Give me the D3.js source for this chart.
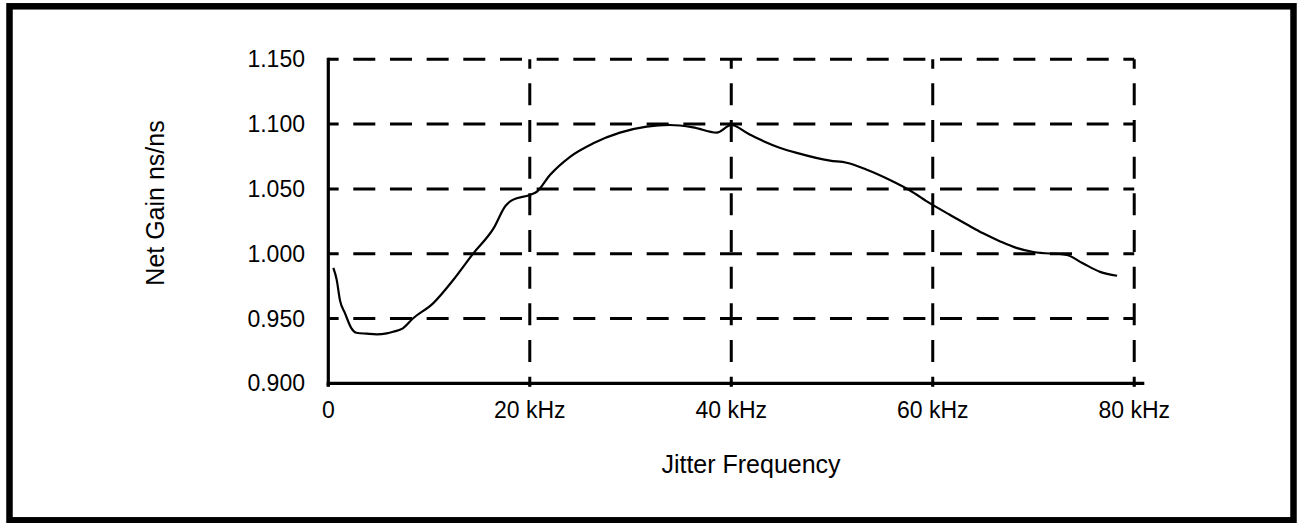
<!DOCTYPE html>
<html>
<head>
<meta charset="utf-8">
<script src="https://cdn.jsdelivr.net/npm/d3@7"></script>
<style>
  html, body { margin: 0; padding: 0; background: #fff; }
  svg { display: block; font-family: "Liberation Sans", Arial, sans-serif; }
</style>
</head>
<body>
<svg id="chart" width="1302" height="523"></svg>
<script>
// data
const freqKHz = [0.5, 0.83, 1.16, 1.66, 2.3, 2.8, 3.8, 4.8, 5.8, 6.45, 7.4, 8.4, 10.4, 12.4, 14.4,
  16.4, 17.6, 18.3, 20.0, 20.7, 22.0, 24.0, 26.3, 28.95, 31.6, 33.9, 36.2, 38.55, 40.0,
  41.7, 43.2, 44.8, 46.5, 49.8, 51.45, 53.4, 55.75, 57.7, 59.7, 61.7, 63.4, 65.0, 66.7, 68.3, 70.0,
  73.3, 74.9, 76.6, 78.3];
const netGain = [0.989, 0.980, 0.964, 0.954, 0.9424, 0.939, 0.9383, 0.9378, 0.9385, 0.9398, 0.9424, 0.950, 0.9617, 0.9797, 1.0003,
  1.0195, 1.037, 1.0415, 1.0453, 1.0478, 1.0607, 1.0748, 1.0852, 1.0934, 1.098, 1.0993, 1.0975, 1.0934, 1.0993,
  1.0925, 1.0868, 1.0818, 1.0778, 1.0718, 1.0702, 1.065, 1.0569, 1.049, 1.039, 1.030, 1.0225, 1.0157, 1.0095, 1.0045, 1.0013,
  0.999, 0.9926, 0.986, 0.983];

const yTicks = [0.900, 0.950, 1.000, 1.050, 1.100, 1.150];
const xTicks = [0, 20, 40, 60, 80];
const xTickLabels = ["0", "20 kHz", "40 kHz", "60 kHz", "80 kHz"];

const svg = d3.select("#chart");

// outer frame
svg.append("rect")
  .attr("x", 9.5).attr("y", 6.3)
  .attr("width", 1284).attr("height", 514)
  .attr("fill", "none").attr("stroke", "#000").attr("stroke-width", 6.5);

const x = d3.scaleLinear().domain([0, 81]).range([328.3, 1144.3]);
const y = d3.scaleLinear().domain([0.9, 1.15]).range([383.3, 59.3]);

// dashed grid
const grid = svg.append("g")
  .attr("stroke", "#000").attr("stroke-width", 3)
  .attr("stroke-dasharray", "22 14.67");

grid.selectAll("line.h")
  .data(yTicks.slice(1))
  .join("line")
  .attr("class", "h")
  .attr("x1", x(0)).attr("x2", x(80))
  .attr("y1", d => y(d)).attr("y2", d => y(d))
  .attr("stroke-dashoffset", 11.67);

grid.selectAll("line.v")
  .data(xTicks.slice(1))
  .join("line")
  .attr("class", "v")
  .attr("x1", d => x(d)).attr("x2", d => x(d))
  .attr("y1", y(1.15)).attr("y2", y(0.9))
  .attr("stroke-dashoffset", 12.67);

// axes
const axisG = svg.append("g").attr("stroke", "#000").attr("stroke-width", 3.2);
axisG.append("line")
  .attr("x1", x(0)).attr("x2", x(0))
  .attr("y1", y(1.15) - 1.5).attr("y2", y(0.9) + 3);
axisG.append("line")
  .attr("x1", x(0) - 1.5).attr("x2", x(81))
  .attr("y1", y(0.9)).attr("y2", y(0.9));
axisG.selectAll("line.tick")
  .data(xTicks)
  .join("line")
  .attr("class", "tick")
  .attr("x1", d => x(d)).attr("x2", d => x(d))
  .attr("y1", y(0.9)).attr("y2", y(0.9) + 3.5);

// tick labels
svg.append("g")
  .selectAll("text")
  .data(yTicks)
  .join("text")
  .attr("x", 305)
  .attr("y", d => y(d))
  .attr("dy", "0.35em")
  .attr("text-anchor", "end")
  .attr("font-size", 23)
  .text(d => d3.format(".3f")(d));

svg.append("g")
  .selectAll("text")
  .data(xTicks)
  .join("text")
  .attr("x", d => x(d))
  .attr("y", 418)
  .attr("text-anchor", "middle")
  .attr("font-size", 23)
  .text((d, i) => xTickLabels[i]);

// axis titles
svg.append("text")
  .attr("x", 751).attr("y", 472.5)
  .attr("text-anchor", "middle")
  .attr("font-size", 25)
  .text("Jitter Frequency");

svg.append("text")
  .attr("transform", "translate(164,203) rotate(-90)")
  .attr("text-anchor", "middle")
  .attr("font-size", 25)
  .text("Net Gain ns/ns");

// curve
const line = d3.line()
  .x(i => x(freqKHz[i]))
  .y(i => y(netGain[i]))
  .curve(d3.curveMonotoneX);

svg.append("path")
  .datum(d3.range(freqKHz.length))
  .attr("d", line)
  .attr("fill", "none")
  .attr("stroke", "#000")
  .attr("stroke-width", 2.2)
  .attr("stroke-linejoin", "round");
</script>
</body>
</html>
